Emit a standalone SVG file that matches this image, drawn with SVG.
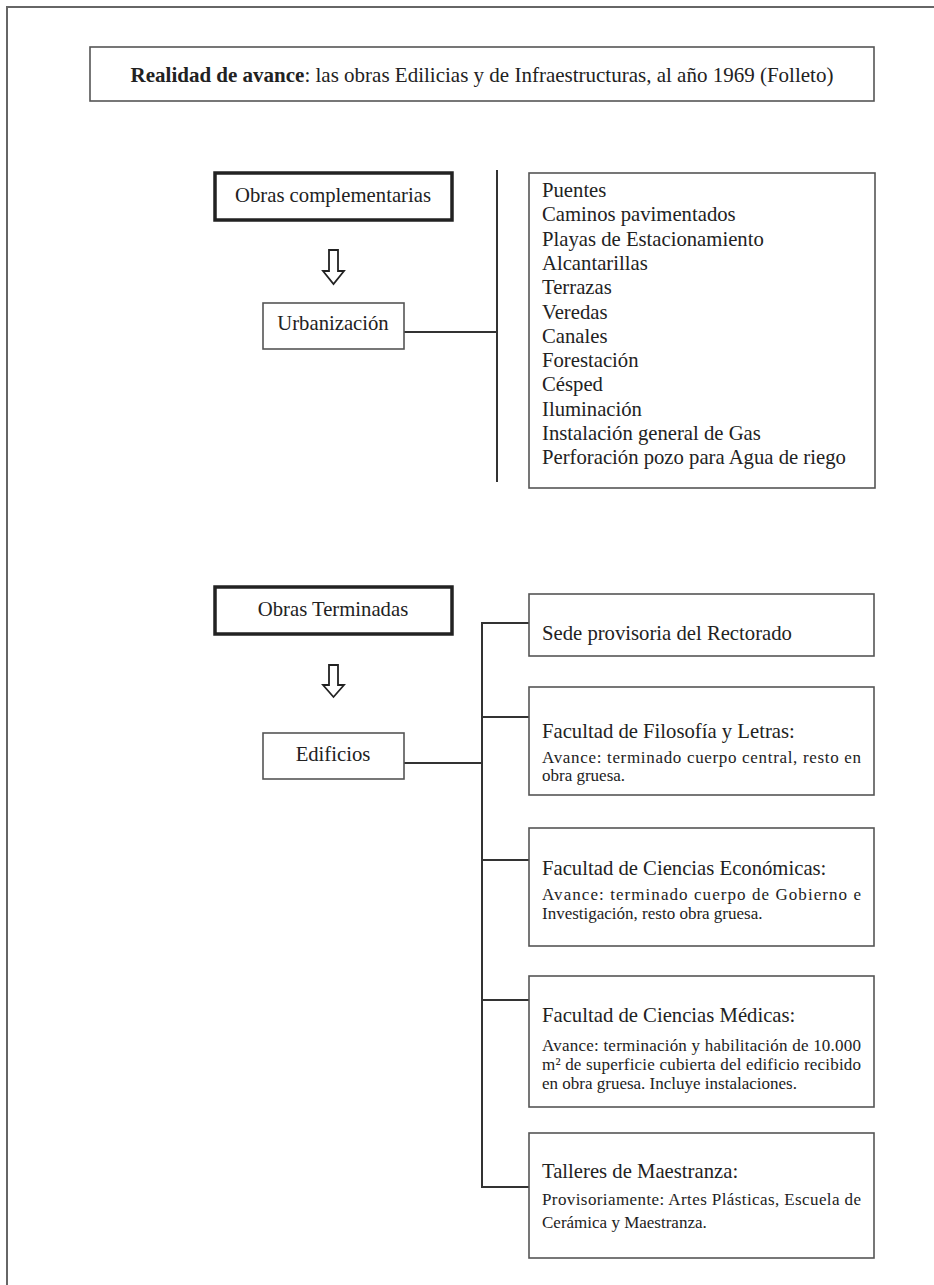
<svg xmlns="http://www.w3.org/2000/svg" width="934" height="1285" viewBox="0 0 934 1285">
<style>
  text { font-family: "Liberation Serif", "Times New Roman", serif; fill: #222; }
  .t { font-size: 20.7px; }
  .h { font-size: 21px; }
  .s { font-size: 17px; }
  .box { fill: #fff; stroke: #555; stroke-width: 1.6; }
  .thick { fill: #fff; stroke: #222; stroke-width: 3.5; }
  .con { fill: none; stroke: #333; stroke-width: 2; }
  .arrow { fill: #fff; stroke: #222; stroke-width: 1.8; stroke-linejoin: miter; }
  .frame { fill: none; stroke: #666; stroke-width: 2; }
</style>
<rect width="934" height="1285" fill="#fff"/>
<path class="frame" d="M7 1285 V7 H934"/>

<g id="title">
  <rect class="box" x="90" y="47" width="784" height="54"/>
  <text class="h" x="482" y="82" text-anchor="middle"><tspan font-weight="bold">Realidad de avance</tspan>: las obras Edilicias y de  Infraestructuras, al año 1969 (Folleto)</text>
</g>

<g id="connectors">
  <line class="con" x1="404" y1="332" x2="497" y2="332"/>
  <line class="con" x1="497" y1="170" x2="497" y2="482"/>
  <line class="con" x1="404" y1="763" x2="482" y2="763"/>
  <path class="con" d="M529 623 H482 V1187 H529"/>
  <line class="con" x1="482" y1="717" x2="529" y2="717"/>
  <line class="con" x1="482" y1="860" x2="529" y2="860"/>
  <line class="con" x1="482" y1="1000" x2="529" y2="1000"/>
</g>

<g id="obras-complementarias">
  <rect class="thick" x="215" y="173" width="237" height="47"/>
  <text class="t" x="333" y="202" text-anchor="middle">Obras complementarias</text>
</g>
<g id="arrow1">
  <polygon class="arrow" points="329,250 338,250 338,271 344,271 333.5,284 323,271 329,271"/>
</g>
<g id="urbanizacion">
  <rect class="box" x="263" y="303" width="141" height="46"/>
  <text class="t" x="333" y="330" text-anchor="middle">Urbanización</text>
</g>
<g id="lista-urbanizacion">
  <rect class="box" x="529" y="173" width="346" height="315"/>
  <text class="t" x="542" y="197">Puentes</text>
  <text class="t" x="542" y="221.3">Caminos pavimentados</text>
  <text class="t" x="542" y="245.6">Playas de Estacionamiento</text>
  <text class="t" x="542" y="269.9">Alcantarillas</text>
  <text class="t" x="542" y="294.2">Terrazas</text>
  <text class="t" x="542" y="318.5">Veredas</text>
  <text class="t" x="542" y="342.8">Canales</text>
  <text class="t" x="542" y="367.1">Forestación</text>
  <text class="t" x="542" y="391.4">Césped</text>
  <text class="t" x="542" y="415.7">Iluminación</text>
  <text class="t" x="542" y="440">Instalación general de Gas</text>
  <text class="t" x="542" y="464.3">Perforación pozo para Agua de riego</text>
</g>

<g id="obras-terminadas">
  <rect class="thick" x="215" y="587" width="237" height="47"/>
  <text class="t" x="333" y="616" text-anchor="middle">Obras Terminadas</text>
</g>
<g id="arrow2">
  <polygon class="arrow" points="329,665 338,665 338,685 344,685 333.5,697 323,685 329,685"/>
</g>
<g id="edificios">
  <rect class="box" x="263" y="733" width="141" height="46"/>
  <text class="t" x="333" y="761" text-anchor="middle">Edificios</text>
</g>

<g id="rectorado">
  <rect class="box" x="529" y="594" width="345" height="62"/>
  <text class="t" x="542" y="640">Sede provisoria del Rectorado</text>
</g>
<g id="filosofia">
  <rect class="box" x="529" y="687" width="345" height="108"/>
  <text class="t" x="542" y="738">Facultad de Filosofía y Letras:</text>
  <text class="s" x="542" y="763" textLength="319" lengthAdjust="spacing">Avance: terminado cuerpo central, resto en</text>
  <text class="s" x="542" y="781">obra gruesa.</text>
</g>
<g id="economicas">
  <rect class="box" x="529" y="828" width="345" height="118"/>
  <text class="t" x="542" y="875">Facultad de Ciencias Económicas:</text>
  <text class="s" x="542" y="900" textLength="319" lengthAdjust="spacing">Avance: terminado cuerpo de Gobierno e</text>
  <text class="s" x="542" y="919">Investigación, resto obra gruesa.</text>
</g>
<g id="medicas">
  <rect class="box" x="529" y="976" width="345" height="131"/>
  <text class="t" x="542" y="1022">Facultad de Ciencias Médicas:</text>
  <text class="s" x="542" y="1051" textLength="319" lengthAdjust="spacing">Avance: terminación y habilitación de 10.000</text>
  <text class="s" x="542" y="1070" textLength="319" lengthAdjust="spacing">m² de superficie cubierta del edificio recibido</text>
  <text class="s" x="542" y="1089">en obra gruesa. Incluye instalaciones.</text>
</g>
<g id="talleres">
  <rect class="box" x="529" y="1133" width="345" height="125"/>
  <text class="t" x="542" y="1178">Talleres de Maestranza:</text>
  <text class="s" x="542" y="1205" textLength="319" lengthAdjust="spacing">Provisoriamente: Artes Plásticas, Escuela de</text>
  <text class="s" x="542" y="1228">Cerámica y Maestranza.</text>
</g>
</svg>
